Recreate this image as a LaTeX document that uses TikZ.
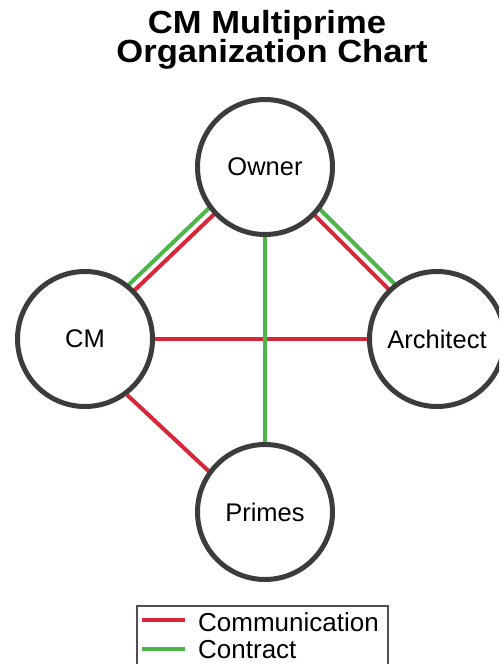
\documentclass[tikz,border=0pt]{standalone}
\usepackage{fontspec}
\setmainfont{Liberation Sans}
\newfontfamily\titlefont[FakeStretch=1.08]{Liberation Sans}
\usetikzlibrary{calc,backgrounds}
\definecolor{commred}{RGB}{217,38,56}
\definecolor{contrgreen}{RGB}{77,182,72}
\definecolor{ringgray}{RGB}{60,60,60}
\definecolor{legendgray}{RGB}{80,80,80}

\begin{document}
\begin{tikzpicture}[x=1pt,y=-1pt,
	party/.style={shape=circle,draw=ringgray,line width=5pt,fill=white,minimum size=135pt,inner sep=0pt,font=\fontsize{25.5}{30}\selectfont},
	comm/.style={draw=commred,line width=4pt},
	contr/.style={draw=contrgreen,line width=4pt},
	legendtext/.style={anchor=west,inner sep=0pt,font=\fontsize{26}{30}\selectfont},
	titletext/.style={anchor=base,inner sep=0pt,font=\titlefont\bfseries\fontsize{32}{36}\selectfont}]
	\path[use as bounding box,clip] (0,0) rectangle (499,664);

	\node[titletext] (title1) at (267,33) {CM Multiprime};
	\node[titletext] (title2) at (272,62) {Organization Chart};

	\node[party] (owner)  at (265,167) {Owner};
	\node[party] (cm)     at (85,339)  {CM};
	\node[party] (arch)   at (437,339) {Architect};
	\node[party] (primes) at (265,512) {Primes};

	\begin{scope}[on background layer]
		\path[comm]  ($(owner)!1pt!-90:(cm)$) -- ($(cm)!1pt!90:(owner)$);
		\path[contr] ($(owner)!9pt!-90:(cm)$) -- ($(cm)!9pt!90:(owner)$);
		\path[comm]  ($(owner)!1pt!90:(arch)$) -- ($(arch)!1pt!-90:(owner)$);
		\path[contr] ($(owner)!9pt!90:(arch)$) -- ($(arch)!9pt!-90:(owner)$);
		\path[comm]  (cm) -- (arch);
		\path[comm]  (cm.-53) -- (primes.144);
		\path[contr] (owner) -- (primes);
	\end{scope}

	\path[draw=legendgray,line width=1.2pt] (137,606) rectangle (388,690);
	\coordinate (commA)  at (142,620);
	\coordinate (commB)  at (185,620);
	\coordinate (contrA) at (142,649);
	\coordinate (contrB) at (185,649);
	\path[comm]  (commA) -- (commB);
	\path[contr] (contrA) -- (contrB);
	\node[legendtext] (commtext)  at (198,622) {Communication};
	\node[legendtext] (contrtext) at (198,650) {Contract};
\end{tikzpicture}
\end{document}
